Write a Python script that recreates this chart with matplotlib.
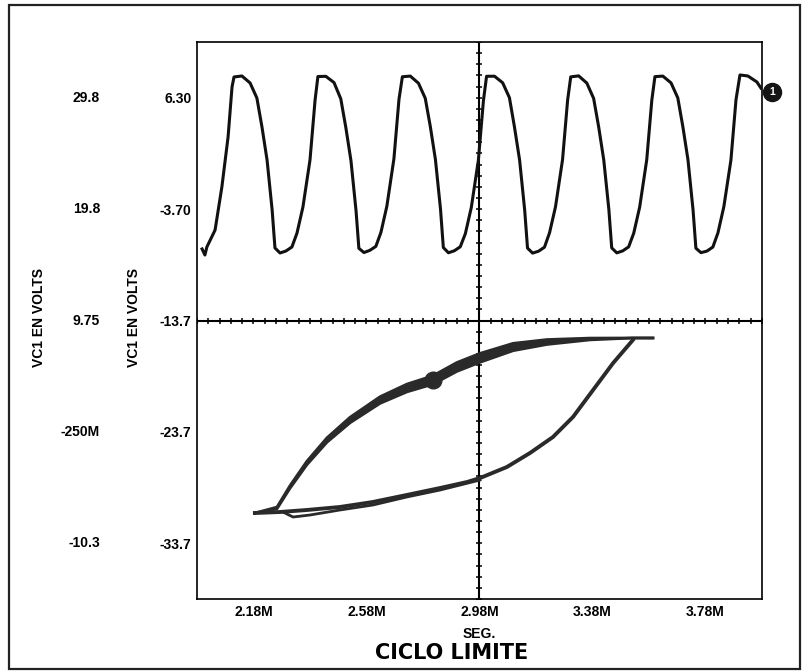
import numpy as np
import matplotlib
matplotlib.use("Agg")
import matplotlib.pyplot as plt
from matplotlib.patches import Rectangle

plt.rcParams['font.family'] = ['Liberation Sans', 'DejaVu Sans']

# VC1 against time (ms), upper trace
t_vc1 = [1.998, 2.008, 2.015, 2.044, 2.068, 2.090, 2.104,
         2.111, 2.139, 2.168, 2.192, 2.210, 2.228, 2.246, 2.256, 2.274, 2.295, 2.316, 2.334, 2.355, 2.380, 2.398,
         2.408, 2.436, 2.465, 2.489, 2.507, 2.525, 2.543, 2.553, 2.571, 2.592, 2.613, 2.631, 2.652, 2.677, 2.695,
         2.707, 2.735, 2.764, 2.788, 2.806, 2.824, 2.842, 2.852, 2.870, 2.891, 2.912, 2.930, 2.951, 2.976, 2.994,
         3.005, 3.033, 3.062, 3.086, 3.104, 3.122, 3.140, 3.150, 3.168, 3.189, 3.210, 3.228, 3.249, 3.274, 3.292,
         3.303, 3.331, 3.360, 3.384, 3.402, 3.420, 3.438, 3.448, 3.466, 3.487, 3.508, 3.526, 3.547, 3.572, 3.590,
         3.601, 3.629, 3.658, 3.682, 3.700, 3.718, 3.736, 3.746, 3.764, 3.785, 3.806, 3.824, 3.845, 3.870, 3.888,
         3.902, 3.930, 3.962, 3.976]
v_vc1 = [-7.28, -7.82, -7.10, -5.58, -1.72, 2.77, 7.26,
         8.16, 8.25, 7.62, 6.27, 3.67, 0.71, -3.78, -7.19, -7.64, -7.46, -7.10, -5.85, -3.51, 0.71, 6.09,
         8.20, 8.22, 7.66, 6.20, 3.60, 0.65, -3.85, -7.22, -7.60, -7.40, -7.05, -5.80, -3.45, 0.80, 6.15,
         8.18, 8.24, 7.60, 6.25, 3.70, 0.75, -3.70, -7.15, -7.62, -7.44, -7.08, -5.90, -3.55, 0.68, 6.05,
         8.22, 8.23, 7.64, 6.30, 3.64, 0.70, -3.80, -7.20, -7.65, -7.48, -7.12, -5.82, -3.50, 0.74, 6.10,
         8.17, 8.26, 7.61, 6.24, 3.66, 0.69, -3.76, -7.18, -7.63, -7.45, -7.09, -5.86, -3.52, 0.72, 6.08,
         8.19, 8.24, 7.63, 6.28, 3.68, 0.72, -3.79, -7.21, -7.61, -7.47, -7.11, -5.84, -3.48, 0.70, 6.12,
         8.34, 8.25, 7.71, 7.17]

# limit cycle, upper branch (outer and inner edge of the settled band)
t_up = [2.185, 2.263, 2.309, 2.369, 2.440, 2.522, 2.628, 2.723, 2.815, 2.900, 2.982, 3.099, 3.219, 3.371, 3.523, 3.594]
v_up_a = [-30.98, -30.45, -28.53, -26.33, -24.23, -22.38, -20.54, -19.41, -18.66, -17.47, -16.65, -15.75, -15.41, -15.28, -15.27, -15.27]
v_up_b = [-30.98, -30.61, -28.77, -26.65, -24.63, -22.88, -21.14, -20.11, -19.42, -18.27, -17.45, -16.41, -15.85, -15.44, -15.27, -15.27]

# limit cycle, return branch from the right corner back to the left corner
t_low = [3.523, 3.453, 3.382, 3.311, 3.240, 3.159, 3.077, 2.982, 2.936, 2.840, 2.723, 2.603, 2.486, 2.369, 2.274, 2.185]
v_low = [-15.45, -17.52, -19.94, -22.36, -24.16, -25.59, -26.85, -27.84, -28.20, -28.74, -29.36, -29.99, -30.44, -30.71, -30.89, -30.98]
# first pass of the return branch, slightly below the settled one
t_low2 = [2.982, 2.840, 2.723, 2.603, 2.486, 2.380, 2.320, 2.284]
v_low2 = [-28.02, -28.92, -29.54, -30.26, -30.71, -31.16, -31.34, -30.89]

# cursor positions
cursor_t, cursor_v = 2.815, -19.04
tag_t, tag_v = 4.015, 6.81

y_ticks = [6.30, -3.70, -13.7, -23.7, -33.7]
y_labels = ['6.30', '-3.70', '-13.7', '-23.7', '-33.7']
y2_labels = ['29.8', '19.8', '9.75', '-250M', '-10.3']
x_ticks = [2.18, 2.58, 2.98, 3.38, 3.78]
x_labels = ['2.18M', '2.58M', '2.98M', '3.38M', '3.78M']

fig = plt.figure(figsize=(8.07, 6.72), dpi=100)
ax = fig.add_axes([0.24411, 0.10863, 0.70012, 0.82887])
ax.set_xlim(1.98, 3.98)
ax.set_ylim(-38.7, 11.3)

# centre cross lines with small ticks
ax.axhline(-13.7, color='black', lw=1.5, zorder=2)
ax.axvline(2.98, color='black', lw=1.5, zorder=2)
hx = np.arange(1.98, 3.98 + 1e-9, 0.04)
ax.plot(hx, np.full_like(hx, -13.7), ls='none', marker='|', ms=5, mew=1.1, color='black', zorder=2)
vy = np.arange(-38.7, 11.3 + 1e-9, 1.0)
ax.plot(np.full_like(vy, 2.98), vy, ls='none', marker='_', ms=5, mew=1.1, color='black', zorder=2)

# waveform
ax.plot(t_vc1, v_vc1, color='#111111', lw=2.2, solid_joinstyle='round', zorder=3)

# phase loop
loop_c = '#2a2a2a'
ax.fill_between(t_up, v_up_a, v_up_b, color=loop_c, lw=0, zorder=3)
ax.plot(t_up, v_up_a, color=loop_c, lw=2.0, zorder=3)
ax.plot(t_up, v_up_b, color=loop_c, lw=2.0, zorder=3)
ax.plot(t_low, v_low, color=loop_c, lw=2.8, zorder=3)
ax.plot(t_low2, v_low2, color=loop_c, lw=2.0, zorder=3)
ax.plot([cursor_t], [cursor_v], 'o', ms=12, color=loop_c, zorder=4)

# trace tag
ax.plot([tag_t], [tag_v], 'o', ms=13, color='#151515', clip_on=False, zorder=5)
ax.text(tag_t, tag_v, '1', color='white', fontsize=7.5, fontweight='bold',
        ha='center', va='center', clip_on=False, zorder=6)

for s in ax.spines.values():
    s.set_linewidth(1.2)
ax.set_yticks(y_ticks)
ax.set_yticklabels(y_labels)
ax.set_xticks(x_ticks)
ax.set_xticklabels(x_labels)
ax.tick_params(length=0, labelsize=10, pad=4)
for lab in ax.get_xticklabels() + ax.get_yticklabels():
    lab.set_fontweight('bold')

# second scale on the far left
for v, s in zip(y_ticks, y2_labels):
    ax.text(-0.1717, v, s, transform=ax.get_yaxis_transform(), ha='right', va='center',
            fontsize=10, fontweight='bold')

ax.text(-0.2796, 0.506, 'VC1 EN VOLTS', transform=ax.transAxes, rotation=90,
        ha='center', va='center', fontsize=10, fontweight='bold')
ax.text(-0.1115, 0.506, 'VC1 EN VOLTS', transform=ax.transAxes, rotation=90,
        ha='center', va='center', fontsize=10, fontweight='bold')

ax.set_xlabel('SEG.', fontsize=10, fontweight='bold', labelpad=6)
fig.text(452 / 807, 1 - 653 / 672, 'CICLO LIMITE', ha='center', va='center',
         fontsize=15, fontweight='bold', family='DejaVu Sans')

# outer frame
fig.add_artist(Rectangle((9 / 807, 3 / 672), 791 / 807, 664 / 672, fill=False,
                         lw=1.6, edgecolor='#222222', transform=fig.transFigure))

fig.savefig('out.png', dpi=100)
